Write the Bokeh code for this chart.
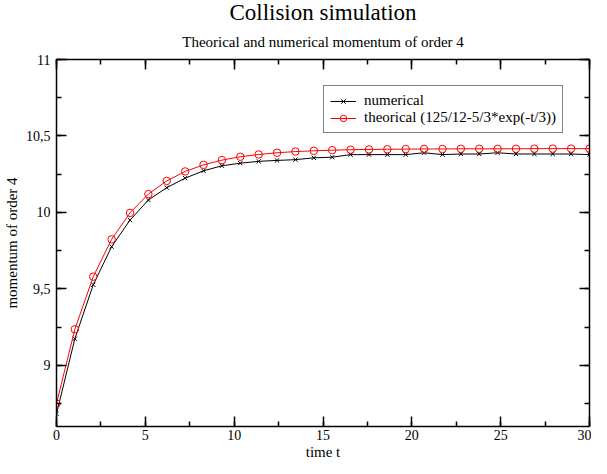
from bokeh.plotting import figure
from bokeh.models import (LinearAxis, SingleIntervalTicker, CustomJSTickFormatter,
                          Title, Range1d)
from bokeh.embed import file_html
from bokeh.resources import INLINE

# ---- data ----
time_t = [0.0, 1.034, 2.069, 3.103, 4.138, 5.172, 6.207, 7.241, 8.276, 9.310,
          10.345, 11.379, 12.414, 13.448, 14.483, 15.517, 16.552, 17.586, 18.621, 19.655,
          20.690, 21.724, 22.759, 23.793, 24.828, 25.862, 26.897, 27.931, 28.966, 30.0]
numerical = [8.683, 9.174, 9.527, 9.776, 9.950, 10.081, 10.162, 10.224, 10.272, 10.305,
             10.322, 10.334, 10.340, 10.345, 10.357, 10.361, 10.378, 10.378, 10.378, 10.378,
             10.390, 10.378, 10.382, 10.382, 10.390, 10.382, 10.382, 10.382, 10.382, 10.378]
theorical = [8.750, 9.236, 9.580, 9.824, 9.997, 10.120, 10.206, 10.268, 10.311, 10.342,
             10.364, 10.379, 10.390, 10.398, 10.403, 10.407, 10.410, 10.412, 10.413, 10.414,
             10.415, 10.415, 10.416, 10.416, 10.416, 10.416, 10.417, 10.417, 10.417, 10.417]

title_text = "Collision simulation"
subtitle_text = "Theorical and numerical momentum of order 4"
x_label = "time t"
y_label = "momentum of order 4"
label_numerical = "numerical"
label_theorical = "theorical (125/12-5/3*exp(-t/3))"

FONT = "Liberation Serif"

p = figure(width=591, height=458, title=None, output_backend="svg",
           toolbar_location=None, x_range=Range1d(0, 30), y_range=Range1d(8.6, 11),
           y_axis_label=y_label,
           min_border_left=50, min_border_right=2, min_border_top=0, min_border_bottom=0)

p.xgrid.visible = False
p.ygrid.visible = False
p.outline_line_color = None
p.background_fill_color = "white"
p.border_fill_color = "white"

fmt = CustomJSTickFormatter(code="return String(tick).replace('.', ',');")
blank = CustomJSTickFormatter(code="return '';")

def style_axis(ax):
    ax.axis_line_color = "black"
    ax.axis_line_width = 1.5
    ax.major_tick_line_color = "black"
    ax.minor_tick_line_color = "black"
    ax.major_tick_line_width = 1.5
    ax.minor_tick_line_width = 1.5
    ax.major_tick_in = 10
    ax.major_tick_out = 0
    ax.minor_tick_in = 5
    ax.minor_tick_out = 0
    ax.major_label_text_font = FONT
    ax.major_label_text_font_size = "14px"
    ax.major_label_text_color = "black"
    ax.axis_label_text_font = FONT
    ax.axis_label_text_font_size = "15px"
    ax.axis_label_text_font_style = "normal"
    ax.axis_label_text_color = "black"

xb = p.xaxis[0]
yl = p.yaxis[0]
xb.ticker = SingleIntervalTicker(interval=5, num_minor_ticks=2)
yl.ticker = SingleIntervalTicker(interval=0.5, num_minor_ticks=2)
xb.formatter = fmt
yl.formatter = fmt
style_axis(xb)
style_axis(yl)
xb.major_label_standoff = 3
yl.major_label_standoff = 6
yl.axis_label_standoff = 3

xt = LinearAxis(ticker=SingleIntervalTicker(interval=5, num_minor_ticks=2), formatter=blank)
style_axis(xt)
xt.major_label_standoff = 0
p.add_layout(xt, "above")
yr = LinearAxis(ticker=SingleIntervalTicker(interval=0.5, num_minor_ticks=2), formatter=blank)
style_axis(yr)
yr.major_label_standoff = 0
p.add_layout(yr, "right")

p.add_layout(Title(text=subtitle_text, align="center", text_font=FONT,
                   text_font_size="15px", text_font_style="normal",
                   text_color="black", standoff=20), "above")
p.add_layout(Title(text=title_text, align="center", text_font=FONT,
                   text_font_size="23px", text_font_style="normal",
                   text_color="black", standoff=-6), "above")
p.add_layout(Title(text=x_label, align="center", text_font=FONT,
                   text_font_size="15px", text_font_style="normal",
                   text_color="black", standoff=-2), "below")

p.line(time_t, numerical, line_color="black", line_width=1, legend_label=label_numerical)
p.scatter(time_t, numerical, marker="x", size=6, line_color="black", line_width=1,
          legend_label=label_numerical)
p.line(time_t, theorical, line_color="red", line_width=1, legend_label=label_theorical)
p.scatter(time_t, theorical, marker="circle", size=7.5, line_color="red", fill_color=None,
          line_width=1, legend_label=label_theorical)

lg = p.legend[0]
lg.location = "top_right"
lg.margin = 26
lg.padding = 6
lg.spacing = 0
lg.glyph_width = 26
lg.glyph_height = 16
lg.label_height = 16
lg.label_standoff = 8
lg.label_text_font = FONT
lg.label_text_font_size = "15px"
lg.label_text_color = "black"
lg.border_line_color = "black"
lg.border_line_width = 1
lg.background_fill_color = "white"
lg.background_fill_alpha = 1

open("out.html", "w").write(file_html(p, INLINE))
